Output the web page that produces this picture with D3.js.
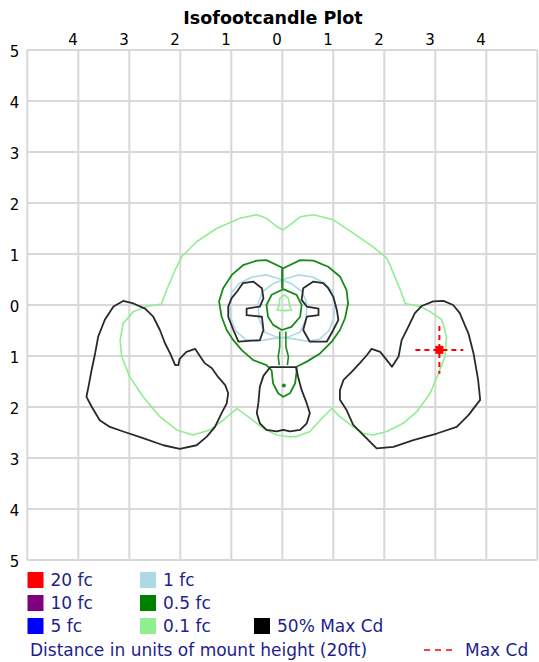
<!DOCTYPE html>
<html>
<head>
<meta charset="utf-8">
<script src="https://cdn.jsdelivr.net/npm/d3@7"></script>
<style>
  html, body { margin: 0; padding: 0; background: #fff; }
  svg { display: block; }
</style>
</head>
<body>
<div id="chart"></div>
<script>
// ---------------- DATA (units of mount height) ----------------
const titleText = "Isofootcandle Plot";
const xTickValues = [-4, -3, -2, -1, 0, 1, 2, 3, 4];
const xTickLabels = ["4", "3", "2", "1", "0", "1", "2", "3", "4"];
const yTickValues = [5, 4, 3, 2, 1, 0, -1, -2, -3, -4, -5];
const yTickLabels = ["5", "4", "3", "2", "1", "0", "1", "2", "3", "4", "5"];
const gridValues = [-5, -4, -3, -2, -1, 0, 1, 2, 3, 4, 5];

// 0.1 fc contour (light green)
const contour01 = [
  [0.01, 1.47], [0.15, 1.57], [0.35, 1.73], [0.61, 1.77], [1.00, 1.67], [1.39, 1.41],
  [1.78, 1.14], [2.05, 0.92], [2.18, 0.62], [2.34, 0.23], [2.41, 0.03], [2.70, -0.03],
  [2.90, -0.13], [3.13, -0.29], [3.22, -0.62], [3.19, -1.01], [3.06, -1.34], [2.90, -1.73],
  [2.64, -2.09], [2.37, -2.32], [2.05, -2.48], [1.78, -2.55], [1.59, -2.52], [1.39, -2.39],
  [1.13, -2.19], [0.97, -2.03], [0.74, -2.26], [0.54, -2.48], [0.28, -2.58], [0.09, -2.58],
  [-0.11, -2.55], [-0.37, -2.42], [-0.63, -2.22], [-0.89, -2.03], [-1.16, -2.26], [-1.42, -2.45],
  [-1.75, -2.55], [-2.07, -2.45], [-2.40, -2.19], [-2.73, -1.80], [-2.99, -1.41], [-3.15, -1.01],
  [-3.18, -0.69], [-3.12, -0.36], [-2.92, -0.13], [-2.66, -0.03], [-2.37, 0.02], [-2.27, 0.29],
  [-2.10, 0.69], [-1.97, 0.95], [-1.68, 1.24], [-1.29, 1.50], [-0.83, 1.70], [-0.50, 1.77],
  [-0.31, 1.70], [-0.11, 1.54]
];
// small 0.1 fc island in the middle (light green)
const contour01Bell = [
  [-0.05, 0.13], [-0.06, 0.00], [-0.10, -0.10], [0.05, -0.11], [0.18, -0.10],
  [0.14, 0.00], [0.12, 0.13], [0.04, 0.20]
];

// 1 fc contour (light blue), two overlapping loops
const contour1Left = [
  [-0.31, 0.59], [-0.05, 0.51], [0.19, 0.41], [0.39, 0.26], [0.48, 0.04], [0.47, -0.26],
  [0.35, -0.53], [0.11, -0.63], [-0.20, -0.66], [-0.48, -0.71], [-0.73, -0.67], [-0.91, -0.51],
  [-1.01, -0.26], [-1.03, 0.00], [-0.99, 0.26], [-0.83, 0.43], [-0.59, 0.55]
];
const contour1Right = [
  [0.31, 0.59], [0.05, 0.51], [-0.19, 0.41], [-0.39, 0.26], [-0.47, 0.04], [-0.46, -0.26],
  [-0.35, -0.53], [-0.11, -0.63], [0.20, -0.66], [0.48, -0.71], [0.73, -0.67], [0.91, -0.51],
  [1.01, -0.26], [1.03, 0.00], [0.99, 0.26], [0.83, 0.43], [0.59, 0.55]
];

// 0.5 fc contour (green)
const contour05Outer = [
  [0.02, 0.72], [0.35, 0.88], [0.61, 0.87], [0.90, 0.75], [1.13, 0.56], [1.26, 0.29],
  [1.29, 0.03], [1.23, -0.26], [1.13, -0.49], [0.97, -0.72], [0.74, -0.95], [0.48, -1.11],
  [0.28, -1.21], [0.28, -1.31], [0.25, -1.54], [0.15, -1.73], [0.02, -1.80], [-0.08, -1.73],
  [-0.18, -1.54], [-0.21, -1.28], [-0.31, -1.18], [-0.57, -1.08], [-0.80, -0.88], [-0.96, -0.69],
  [-1.09, -0.49], [-1.19, -0.23], [-1.24, 0.07], [-1.16, 0.33], [-0.99, 0.59], [-0.77, 0.78],
  [-0.50, 0.87], [-0.31, 0.88]
];
const contour05Cusp = [[0.00, 0.72], [0.00, 0.32]];
const contour05Inner = [
  [0.02, 0.31], [0.28, 0.20], [0.38, 0.00], [0.35, -0.23], [0.18, -0.43], [-0.01, -0.49],
  [-0.18, -0.39], [-0.28, -0.23], [-0.31, 0.00], [-0.21, 0.20]
];
const contour05StemLeft = [[-0.05, -0.52], [-0.05, -0.82], [-0.08, -1.01], [-0.06, -1.18]];
const contour05StemRight = [[0.07, -0.52], [0.07, -0.82], [0.12, -1.01], [0.10, -1.18]];
const contour05Dot = [0.03, -1.58];

// 50% Max Cd contour (black)
const maxCd50Left = [
  [-3.12, 0.08], [-2.92, 0.03], [-2.69, -0.07], [-2.53, -0.23], [-2.40, -0.49], [-2.30, -0.75],
  [-2.20, -0.95], [-2.10, -1.18], [-2.04, -1.18], [-2.01, -1.05], [-1.88, -0.92], [-1.71, -0.86],
  [-1.61, -1.01], [-1.52, -1.14], [-1.38, -1.24], [-1.26, -1.41], [-1.12, -1.57], [-1.06, -1.73],
  [-1.09, -1.93], [-1.19, -2.12], [-1.32, -2.39], [-1.48, -2.58], [-1.68, -2.75], [-2.01, -2.82],
  [-2.33, -2.75], [-2.73, -2.61], [-3.12, -2.48], [-3.38, -2.39], [-3.58, -2.26], [-3.74, -1.99],
  [-3.84, -1.80], [-3.80, -1.60], [-3.74, -1.28], [-3.67, -0.95], [-3.61, -0.62], [-3.48, -0.29],
  [-3.31, -0.03]
];
const maxCd50Right = [
  [3.16, 0.08], [2.96, 0.07], [2.73, -0.02], [2.60, -0.16], [2.47, -0.43], [2.34, -0.69],
  [2.28, -1.01], [2.15, -1.21], [2.05, -1.08], [1.92, -0.92], [1.75, -0.86], [1.66, -0.98],
  [1.52, -1.14], [1.36, -1.31], [1.20, -1.47], [1.13, -1.67], [1.13, -1.86], [1.26, -2.06],
  [1.39, -2.35], [1.59, -2.55], [1.85, -2.81], [2.18, -2.78], [2.57, -2.65], [3.03, -2.52],
  [3.42, -2.39], [3.65, -2.16], [3.88, -1.86], [3.84, -1.47], [3.75, -0.95], [3.65, -0.56],
  [3.48, -0.16], [3.35, 0.00]
];
const maxCd50InnerLeft = [
  [-0.77, 0.43], [-0.57, 0.46], [-0.40, 0.33], [-0.37, 0.13], [-0.44, -0.03], [-0.70, -0.07],
  [-0.70, -0.20], [-0.40, -0.23], [-0.37, -0.49], [-0.44, -0.69], [-0.86, -0.72], [-0.96, -0.49],
  [-1.06, -0.23], [-1.06, -0.03], [-0.99, 0.14], [-0.89, 0.26]
];
const maxCd50InnerRight = [
  [0.80, 0.43], [0.61, 0.46], [0.41, 0.33], [0.38, 0.10], [0.48, -0.03], [0.71, -0.07],
  [0.71, -0.20], [0.48, -0.23], [0.41, -0.49], [0.54, -0.72], [0.87, -0.72], [1.00, -0.49],
  [1.10, -0.29], [1.07, -0.10], [1.00, 0.16], [0.90, 0.33]
];
const maxCd50Bottom = [
  [-0.24, -1.22], [0.27, -1.22], [0.31, -1.41], [0.38, -1.67], [0.48, -1.93], [0.54, -2.12],
  [0.48, -2.32], [0.35, -2.45], [0.15, -2.48], [0.02, -2.45], [-0.11, -2.48], [-0.31, -2.45],
  [-0.44, -2.32], [-0.50, -2.12], [-0.47, -1.93], [-0.44, -1.60], [-0.37, -1.39]
];

// Max Cd location and cross-hair half length
const maxCdPoint = [3.08, -0.88];
const maxCdArm = 0.47;

// Legend
const legendLabels = ["20 fc", "10 fc", "5 fc", "1 fc", "0.5 fc", "0.1 fc", "50% Max Cd"];
const legendColors = ["#ff0000", "#800080", "#0000ff", "#add8e6", "#008000", "#90ee90", "#000000"];
const footerText = "Distance in units of mount height (20ft)";
const maxCdLabel = "Max Cd";

// ---------------- DRAWING ----------------
const W = 539, H = 662;
const svg = d3.select("#chart").append("svg").attr("width", W).attr("height", H)
  .style("font-family", "'DejaVu Sans', Verdana, sans-serif");
svg.append("rect").attr("width", W).attr("height", H).attr("fill", "#fff");

const x = d3.scaleLinear().domain([-5, 5]).range([27.3, 537.3]);
const y = d3.scaleLinear().domain([-5, 5]).range([560, 50]);

// title
svg.append("text").attr("x", 273).attr("y", 24).attr("text-anchor", "middle")
  .attr("font-size", 17.5).attr("font-weight", "bold").attr("fill", "#000").text(titleText);

// grid
const grid = svg.append("g");
grid.selectAll("line.v").data(gridValues).join("line")
  .attr("x1", d => x(d)).attr("x2", d => x(d)).attr("y1", y(5)).attr("y2", y(-5))
  .attr("stroke", "#d8d8d8").attr("stroke-width", 2);
grid.selectAll("line.h").data(gridValues).join("line").attr("class", "h")
  .attr("y1", d => y(d)).attr("y2", d => y(d)).attr("x1", x(-5)).attr("x2", x(5))
  .attr("stroke", "#d8d8d8").attr("stroke-width", 2);

// axes
const xAxis = d3.axisTop(x).tickValues(xTickValues).tickSize(0)
  .tickFormat((d, i) => xTickLabels[i]);
const gx = svg.append("g").attr("transform", `translate(0,${y(5) - 2})`).call(xAxis);
gx.select(".domain").remove();
gx.selectAll("text").attr("font-size", 15).attr("font-family", "'DejaVu Sans', Verdana, sans-serif")
  .attr("fill", "#000").attr("text-anchor", "end").attr("dx", -1).attr("dy", 0);

const yAxis = d3.axisLeft(y).tickValues(yTickValues).tickSize(0)
  .tickFormat((d, i) => yTickLabels[i]);
const gy = svg.append("g").attr("transform", `translate(${x(-5) - 5},0)`).call(yAxis);
gy.select(".domain").remove();
gy.selectAll("text").attr("font-size", 15).attr("font-family", "'DejaVu Sans', Verdana, sans-serif")
  .attr("fill", "#000").attr("dy", "0.42em");

// contours
const lineClosed = d3.line().x(d => x(d[0])).y(d => y(d[1])).curve(d3.curveLinearClosed);
const lineOpen = d3.line().x(d => x(d[0])).y(d => y(d[1]));
const plot = svg.append("g").attr("fill", "none").attr("stroke-linejoin", "round");

function draw(data, color, width, closed = true) {
  plot.append("path").attr("d", closed ? lineClosed(data) : lineOpen(data))
    .attr("stroke", color).attr("stroke-width", width);
}

draw(contour01, "#90ee90", 1.6);
draw(contour01Bell, "#90ee90", 1.6);
draw(contour1Left, "#add8e6", 1.6);
draw(contour1Right, "#add8e6", 1.6);
draw(contour05Outer, "#1a8a1a", 1.8);
draw(contour05Cusp, "#1a8a1a", 2.4, false);
draw(contour05Inner, "#1a8a1a", 1.8);
draw(contour05StemLeft, "#1a8a1a", 1.6, false);
draw(contour05StemRight, "#1a8a1a", 1.6, false);
plot.append("circle").attr("cx", x(contour05Dot[0])).attr("cy", y(contour05Dot[1])).attr("r", 2)
  .attr("fill", "#1a8a1a").attr("stroke", "none");
draw(maxCd50Left, "#2a2a2a", 1.8);
draw(maxCd50Right, "#2a2a2a", 1.8);
draw(maxCd50InnerLeft, "#2a2a2a", 1.8);
draw(maxCd50InnerRight, "#2a2a2a", 1.8);
draw(maxCd50Bottom, "#2a2a2a", 1.8);

// Max Cd cross
const mc = svg.append("g").attr("stroke", "#ff0000").attr("stroke-width", 2).attr("stroke-dasharray", "5,4");
mc.append("line").attr("x1", x(maxCdPoint[0] - maxCdArm)).attr("x2", x(maxCdPoint[0] + maxCdArm))
  .attr("y1", y(maxCdPoint[1])).attr("y2", y(maxCdPoint[1]));
mc.append("line").attr("y1", y(maxCdPoint[1] + maxCdArm)).attr("y2", y(maxCdPoint[1] - maxCdArm))
  .attr("x1", x(maxCdPoint[0])).attr("x2", x(maxCdPoint[0]));
svg.append("rect").attr("x", x(maxCdPoint[0]) - 4).attr("y", y(maxCdPoint[1]) - 4)
  .attr("width", 8).attr("height", 8).attr("fill", "#ff0000");

// legend
const textColor = "#1e1e8c";
const colX = [27.5, 140, 254];
const rowCY = [580, 603, 626];
const legendPos = [[0, 0], [0, 1], [0, 2], [1, 0], [1, 1], [1, 2], [2, 2]];
const lg = svg.append("g");
legendLabels.forEach((lab, i) => {
  const [c, r] = legendPos[i];
  lg.append("rect").attr("x", colX[c]).attr("y", rowCY[r] - 8).attr("width", 16).attr("height", 16)
    .attr("fill", legendColors[i]);
  lg.append("text").attr("x", colX[c] + 23).attr("y", rowCY[r]).attr("dy", "0.36em")
    .attr("font-size", 17).attr("fill", textColor).text(lab);
});
svg.append("text").attr("x", 30).attr("y", 650).attr("dy", "0.36em").attr("font-size", 17)
  .attr("fill", textColor).text(footerText);
svg.append("line").attr("x1", 424).attr("x2", 455).attr("y1", 650).attr("y2", 650)
  .attr("stroke", "#ff0000").attr("stroke-width", 1.5).attr("stroke-dasharray", "6,5");
svg.append("text").attr("x", 465).attr("y", 650).attr("dy", "0.36em").attr("font-size", 17)
  .attr("fill", textColor).text(maxCdLabel);
</script>
</body>
</html>
